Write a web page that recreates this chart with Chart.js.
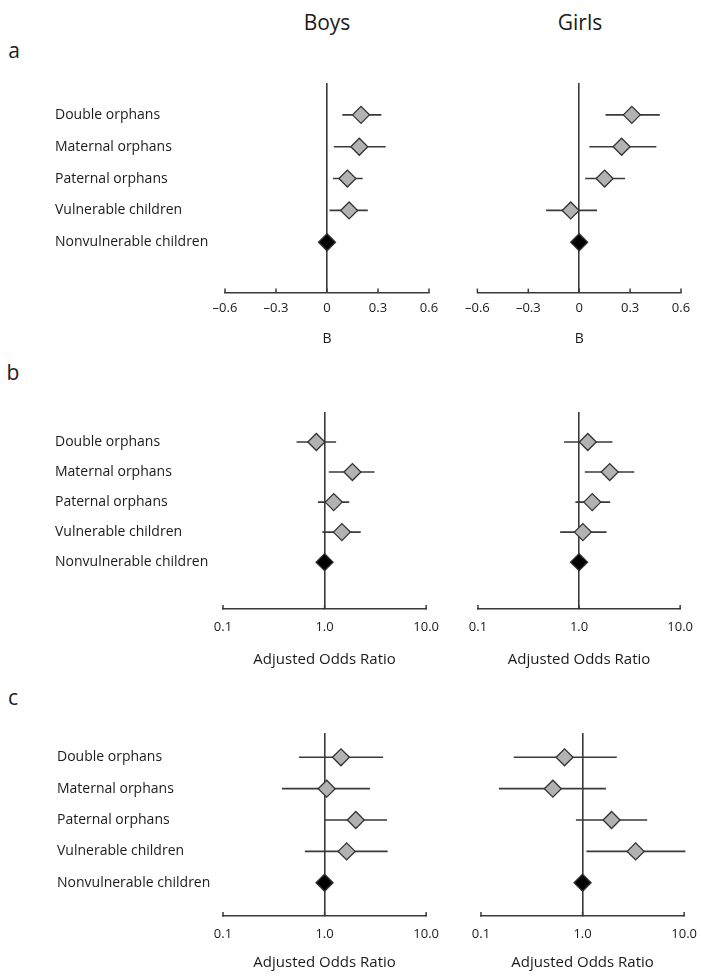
<!DOCTYPE html>
<html><head><meta charset="utf-8">
<script src="https://cdn.jsdelivr.net/npm/chart.js@4.4.0/dist/chart.umd.min.js"></script>
<style>
body{margin:0;background:#fff;width:701px;height:978px;position:relative;overflow:hidden;font-family:'Open Sans',sans-serif;color:#1a1a1a}
.t{position:absolute;line-height:1;white-space:nowrap;transform:translate(-50%,-50%)}
canvas{position:absolute}
</style></head><body>
<div class="t" style="left:327px;top:22px;font-size:21px">Boys</div>
<div class="t" style="left:580px;top:22px;font-size:21px">Girls</div>
<div class="t" style="left:14px;top:50px;font-size:21px">a</div>
<div class="t" style="left:13px;top:372px;font-size:21px">b</div>
<div class="t" style="left:13px;top:697px;font-size:21px">c</div>
<script>
// ---- data ----
const rowLabels = ['Double orphans','Maternal orphans','Paternal orphans','Vulnerable children','Nonvulnerable children'];

const bTicks = [-0.6,-0.3,0,0.3,0.6];
const bTickLabels = ['\u20130.6','\u20130.3','0','0.3','0.6'];
const orTicks = [0.1,1,10];
const orTickLabels = ['0.1','1.0','10.0'];

// panel a: B coefficients
const aBoysEst = [0.20, 0.19, 0.12, 0.13, 0];
const aBoysLo  = [0.09, 0.04, 0.035, 0.015, null];
const aBoysHi  = [0.32, 0.345, 0.21, 0.24, null];
const aGirlsEst = [0.31, 0.25, 0.15, -0.05, 0];
const aGirlsLo  = [0.155, 0.06, 0.035, -0.195, null];
const aGirlsHi  = [0.475, 0.455, 0.27, 0.105, null];

// panel b: adjusted odds ratios
const bBoysEst = [0.83, 1.88, 1.23, 1.48, 1];
const bBoysLo  = [0.53, 1.10, 0.86, 0.95, null];
const bBoysHi  = [1.30, 3.10, 1.75, 2.27, null];
const bGirlsEst = [1.22, 2.01, 1.35, 1.09, 1];
const bGirlsLo  = [0.71, 1.14, 0.92, 0.65, null];
const bGirlsHi  = [2.14, 3.52, 2.03, 1.87, null];

// panel c: adjusted odds ratios
const cBoysEst = [1.45, 1.05, 2.03, 1.65, 1];
const cBoysLo  = [0.56, 0.38, 1.00, 0.64, null];
const cBoysHi  = [3.77, 2.80, 4.12, 4.18, null];
const cGirlsEst = [0.665, 0.51, 1.93, 3.33, 1];
const cGirlsLo  = [0.21, 0.15, 0.86, 1.09, null];
const cGirlsHi  = [2.17, 1.70, 4.33, 10.3, null];

// ---- drawing ----
Chart.defaults.font.family = "'Open Sans', sans-serif";
Chart.defaults.color = '#1a1a1a';
const LINE = '#3a3a3a';

const upTicks = {
  id:'upTicks',
  afterDatasetsDraw(chart){
    const s = chart.scales.x, ctx = chart.ctx;
    ctx.save(); ctx.strokeStyle = LINE; ctx.lineWidth = 1.5;
    s.ticks.forEach(t => {
      const px = s.getPixelForValue(t.value);
      ctx.beginPath(); ctx.moveTo(px, s.top + 0.5); ctx.lineTo(px, s.top - 4); ctx.stroke();
    });
    ctx.restore();
  }
};

function makeChart(cfg){
  const {est, lo, hi, showLabels, labelLeft, plotLeft, plotRight, plotTop, axisY, ymin, ymax,
         type, ticks, tickLabels, ref, title, titleSize, titleY, tickPad} = cfg;
  const padR = 20, padL = showLabels ? 0 : 20;
  const canvasLeft = showLabels ? labelLeft : plotLeft - padL;
  const width = plotRight + padR - canvasLeft;
  const lh = titleSize * 1.2, titlePadB = 3;
  const xAxisH = (titleY - axisY) + lh/2 + titlePadB;
  const height = Math.ceil(axisY - plotTop + xAxisH);
  const cv = document.createElement('canvas');
  cv.width = width; cv.height = height;
  cv.style.left = canvasLeft + 'px'; cv.style.top = plotTop + 'px';
  cv.style.width = width + 'px'; cv.style.height = height + 'px';
  document.body.appendChild(cv);

  const ciData = [];
  est.forEach((v, i) => {
    if (lo[i] !== null) {
      ciData.push({x: lo[i], y: i + 1}, {x: hi[i], y: i + 1}, {x: null, y: null});
    }
  });
  const ptData = est.map((v, i) => ({x: v, y: i + 1}));
  const ptColors = est.map((v, i) => i === est.length - 1 ? '#000' : '#b2b2b2');

  new Chart(cv, {
    type: 'scatter',
    data: { datasets: [
      { data: ciData, showLine: true, spanGaps: false, borderColor: LINE, borderWidth: 1.6,
        pointRadius: 0, clip: false, order: 2 },
      { data: ptData, pointStyle: 'rectRot', pointRadius: 8.5, pointHoverRadius: 8.5,
        pointBackgroundColor: ptColors, pointBorderColor: '#333', pointBorderWidth: 1.3,
        backgroundColor: ptColors, borderColor: '#333', clip: false, order: 1 }
    ]},
    options: {
      responsive: false, animation: false, devicePixelRatio: 1,
      layout: { autoPadding: false, padding: { left: padL, right: padR, top: 0, bottom: 0 } },
      plugins: { legend: { display: false }, tooltip: { enabled: false } },
      scales: {
        x: {
          type: type, min: ticks[0], max: ticks[ticks.length - 1],
          afterBuildTicks: s => { s.ticks = ticks.map(v => ({value: v})); },
          afterFit: s => { s.height = xAxisH; },
          grid: { drawTicks: false, lineWidth: 1.6,
                  color: c => (c.tick && c.tick.value === ref) ? LINE : 'rgba(0,0,0,0)' },
          border: { display: true, color: LINE, width: 1.6 },
          ticks: { padding: tickPad, autoSkip: false, maxRotation: 0, font: { size: 13 },
                   callback: (v, i) => tickLabels[i] },
          title: { display: true, text: title, font: { size: titleSize }, padding: { top: 0, bottom: titlePadB } }
        },
        y: {
          type: 'linear', reverse: true, min: ymin, max: ymax, display: showLabels,
          afterBuildTicks: s => { s.ticks = rowLabels.map((l, i) => ({value: i + 1})); },
          afterFit: s => {
            if (showLabels) s.width = plotLeft - labelLeft;
            s.paddingTop = 0; s.paddingBottom = 0;
          },
          grid: { display: false }, border: { display: false },
          ticks: { crossAlign: 'far', padding: 0, autoSkip: false, font: { size: 14 },
                   callback: (v, i) => rowLabels[i] }
        }
      }
    },
    plugins: [upTicks]
  });
}

const panels = [
  { plotTop: 83, axisY: 292, ymin: 0, ymax: 6.58, titleY: 338, labelLeft: 55, type: 'linear',
    ticks: bTicks, tickLabels: bTickLabels, ref: 0, title: 'B', titleSize: 14, tickPad: 8,
    boys: { x: [225, 429], est: aBoysEst, lo: aBoysLo, hi: aBoysHi },
    girls: { x: [477, 681], est: aGirlsEst, lo: aGirlsLo, hi: aGirlsHi } },
  { plotTop: 412, axisY: 609, ymin: 0, ymax: 6.56, titleY: 660, labelLeft: 55, type: 'logarithmic',
    ticks: orTicks, tickLabels: orTickLabels, ref: 1, title: 'Adjusted Odds Ratio', titleSize: 15, tickPad: 10,
    boys: { x: [223, 429], est: bBoysEst, lo: bBoysLo, hi: bBoysHi },
    girls: { x: [478, 683], est: bGirlsEst, lo: bGirlsLo, hi: bGirlsHi } },
  { plotTop: 733, axisY: 916, ymin: 0.225, ymax: 6.06, titleY: 963, labelLeft: 57, type: 'logarithmic',
    ticks: orTicks, tickLabels: orTickLabels, ref: 1, title: 'Adjusted Odds Ratio', titleSize: 15, tickPad: 10,
    boys: { x: [223, 429], est: cBoysEst, lo: cBoysLo, hi: cBoysHi },
    girls: { x: [481, 687], est: cGirlsEst, lo: cGirlsLo, hi: cGirlsHi } }
];

panels.forEach(p => {
  ['boys', 'girls'].forEach(side => {
    const d = p[side];
    makeChart({
      est: d.est, lo: d.lo, hi: d.hi, showLabels: side === 'boys', labelLeft: p.labelLeft,
      plotLeft: d.x[0], plotRight: d.x[1], plotTop: p.plotTop, axisY: p.axisY,
      ymin: p.ymin, ymax: p.ymax, type: p.type, ticks: p.ticks, tickLabels: p.tickLabels,
      ref: p.ref, title: p.title, titleSize: p.titleSize, titleY: p.titleY, tickPad: p.tickPad
    });
  });
});
</script>
</body></html>
